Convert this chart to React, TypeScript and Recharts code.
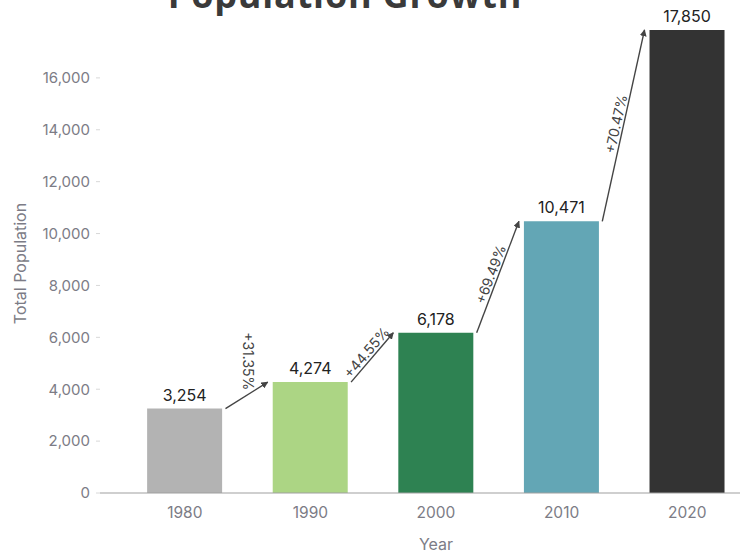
import { Bar, BarChart, Cell, LabelList, XAxis, YAxis, usePlotArea } from "recharts";

const years = ["1980", "1990", "2000", "2010", "2020"];
const population = [3254, 4274, 6178, 10471, 17850];
const barColors = ["#b3b3b3", "#acd584", "#2e8252", "#63a6b5", "#333333"];
const yTicks = [0, 2000, 4000, 6000, 8000, 10000, 12000, 14000, 16000];

const Y_MAX = 18000;
const PAD_LEFT = 22;
const GAP = 0.2;
const FONT = "Inter, Roboto, sans-serif";

const rows = years.map((year, i) => ({ year, value: population[i] }));

function fmt(v: number): string {
  return v.toLocaleString("en-US");
}

function GrowthArrows() {
  const plot = usePlotArea();
  if (!plot) return null;

  const band = (plot.width - PAD_LEFT) / rows.length;
  const barW = band * (1 - 2 * GAP);
  const leftOf = (i: number) => plot.x + PAD_LEFT + i * band + band * GAP;
  const yAt = (v: number) => plot.y + plot.height * (1 - v / Y_MAX);

  return (
    <g>
      <defs>
        <marker
          id="arrowHead"
          viewBox="0 0 10 10"
          refX="9"
          refY="5"
          markerWidth="5"
          markerHeight="5"
          orient="auto"
        >
          <path d="M0,0 L10,5 L0,10 z" fill="#444" />
        </marker>
      </defs>
      {rows.slice(0, -1).map((row, i) => {
        const next = rows[i + 1];
        const x1 = leftOf(i) + barW + 3;
        const y1 = yAt(row.value);
        const x2 = leftOf(i + 1) - 5;
        const y2 = yAt(next.value);
        const dx = x2 - x1;
        const dy = y2 - y1;
        const len = Math.hypot(dx, dy);
        const angle = (Math.atan2(dy, dx) * 180) / Math.PI;
        const mx = (x1 + x2) / 2;
        const my = (y1 + y2) / 2;
        const pct = ((next.value - row.value) / row.value) * 100;

        // first label sits vertical above the shallow arrow
        let lx = mx + (dy / len) * 8;
        let ly = my - (dx / len) * 8;
        let rot = angle;
        if (i === 0) {
          lx = mx + 2;
          ly = my - 34;
          rot = 90;
        }

        return (
          <g key={row.year}>
            <line
              x1={x1}
              y1={y1}
              x2={x2}
              y2={y2}
              stroke="#444"
              strokeWidth={1.4}
              markerEnd="url(#arrowHead)"
            />
            <text
              x={lx}
              y={ly}
              transform={`rotate(${rot} ${lx} ${ly})`}
              textAnchor="middle"
              dominantBaseline="central"
              fontSize={14}
              fill="#444"
              fontFamily={FONT}
            >
              {`+${pct.toFixed(2)}%`}
            </text>
          </g>
        );
      })}
    </g>
  );
}

export default function App() {
  return (
    <div
      style={{
        position: "absolute",
        left: 0,
        top: 0,
        width: 740,
        height: 556,
        overflow: "hidden",
        background: "#fff",
        fontFamily: FONT,
      }}
    >
      <div
        style={{
          position: "absolute",
          left: 0,
          top: 0,
          width: 690,
          height: 16,
          overflow: "hidden",
        }}
      >
        <div
          style={{
            position: "absolute",
            left: 0,
            width: 690,
            top: -25,
            textAlign: "center",
            fontSize: 36,
            lineHeight: "40px",
            fontWeight: 700,
            letterSpacing: 0.8,
            color: "#3a3a3a",
            fontFamily: "'Open Sans', sans-serif",
          }}
        >
          Population Growth
        </div>
      </div>
      <BarChart
        width={750}
        height={556}
        data={rows}
        margin={{ top: 26, right: 0, bottom: 0, left: 0 }}
        barCategoryGap="20%"
      >
        <XAxis
          dataKey="year"
          padding={{ left: PAD_LEFT, right: 0 }}
          height={63}
          tickLine={false}
          tickSize={0}
          tickMargin={14}
          axisLine={{ stroke: "#a0a0a0", strokeWidth: 1.2 }}
          tick={{ fill: "#7c7c86", fontSize: 15.5, fontFamily: FONT }}
          label={{
            value: "Year",
            position: "insideBottom",
            offset: 6,
            dx: 11,
            fill: "#7c7c86",
            fontSize: 16,
            fontFamily: FONT,
          }}
        />
        <YAxis
          width={100}
          domain={[0, Y_MAX]}
          ticks={yTicks}
          axisLine={false}
          tickSize={4}
          tickMargin={6}
          tickLine={{ stroke: "#d8d8d8" }}
          tickFormatter={(v) => fmt(Number(v))}
          tick={{ fill: "#7c7c86", fontSize: 15, fontFamily: FONT }}
          label={{
            value: "Total Population",
            angle: -90,
            position: "center",
            dx: -30,
            dy: 4,
            fill: "#7c7c86",
            fontSize: 16,
            fontFamily: FONT,
          }}
        />
        <Bar dataKey="value" isAnimationActive={false}>
          {rows.map((row, i) => (
            <Cell key={row.year} fill={barColors[i]} />
          ))}
          <LabelList
            dataKey="value"
            position="top"
            offset={8}
            formatter={(v: number) => fmt(Number(v))}
            style={{ fill: "#222", fontSize: 16, fontFamily: FONT }}
          />
        </Bar>
        <GrowthArrows />
      </BarChart>
    </div>
  );
}
